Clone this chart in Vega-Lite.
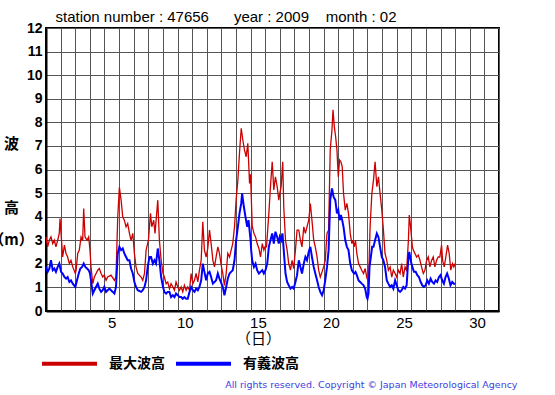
{
 "$schema": "https://vega.github.io/schema/vega-lite/v6.json",
 "width": 453,
 "height": 283,
 "autosize": {"type": "none"},
 "padding": {"left": 46, "top": 28, "right": 56, "bottom": 84},
 "background": "white",
 "config": {"view": {"stroke": "#000000", "strokeWidth": 2}},
 "datasets": {
  "max": [
   {"d":1.00,"v":3.14},{"d":1.11,"v":2.72},{"d":1.23,"v":3.0},{"d":1.34,"v":3.14},{"d":1.46,"v":2.86},{"d":1.57,"v":3.0},{"d":1.68,"v":2.72},{"d":1.80,"v":3.0},{"d":1.91,"v":3.3},{"d":1.96,"v":3.92},
   {"d":2.14,"v":2.29},{"d":2.26,"v":2.79},{"d":2.37,"v":2.44},{"d":2.48,"v":2.29},{"d":2.60,"v":2.01},{"d":2.71,"v":2.15},{"d":2.83,"v":1.87},{"d":3.01,"v":1.59},
   {"d":3.06,"v":1.73},{"d":3.17,"v":2.44},{"d":3.28,"v":2.58},{"d":3.40,"v":3.14},{"d":3.51,"v":3.0},{"d":3.58,"v":4.35},{"d":3.67,"v":3.14},{"d":3.81,"v":3.0},{"d":3.92,"v":3.14},
   {"d":4.01,"v":2.58},{"d":4.08,"v":1.87},{"d":4.20,"v":1.16},{"d":4.31,"v":1.44},{"d":4.54,"v":1.73},{"d":4.65,"v":1.80},{"d":4.77,"v":1.59},{"d":4.88,"v":1.44},{"d":4.99,"v":1.52},
   {"d":5.11,"v":1.30},{"d":5.22,"v":1.44},{"d":5.45,"v":1.52},{"d":5.68,"v":1.30},{"d":5.79,"v":1.44},{"d":5.91,"v":3.99},{"d":6.02,"v":5.24},
   {"d":6.14,"v":4.70},{"d":6.25,"v":3.99},{"d":6.36,"v":3.85},{"d":6.48,"v":3.57},{"d":6.59,"v":3.71},{"d":6.71,"v":3.29},{"d":6.82,"v":3.0},{"d":6.94,"v":3.29},
   {"d":7.05,"v":2.44},{"d":7.16,"v":1.87},{"d":7.28,"v":1.59},{"d":7.51,"v":1.44},{"d":7.62,"v":1.30},{"d":7.74,"v":1.59},{"d":7.85,"v":2.58},{"d":8.01,"v":3.0},
   {"d":8.15,"v":4.14},{"d":8.24,"v":3.57},{"d":8.37,"v":3.85},{"d":8.46,"v":3.29},{"d":8.65,"v":4.70},{"d":8.76,"v":3.0},{"d":8.88,"v":2.15},{"d":9.01,"v":1.59},
   {"d":9.10,"v":1.44},{"d":9.22,"v":1.16},{"d":9.33,"v":1.23},{"d":9.45,"v":0.95},{"d":9.56,"v":1.16},{"d":9.68,"v":1.02},{"d":9.79,"v":0.88},{"d":9.90,"v":1.23},
   {"d":10.02,"v":1.02},{"d":10.13,"v":0.88},{"d":10.25,"v":1.02},{"d":10.36,"v":0.81},{"d":10.47,"v":1.09},{"d":10.59,"v":0.88},{"d":10.70,"v":1.02},{"d":10.82,"v":0.88},{"d":10.93,"v":1.59},
   {"d":11.05,"v":1.16},{"d":11.16,"v":1.30},{"d":11.27,"v":1.59},{"d":11.39,"v":1.23},{"d":11.50,"v":1.73},{"d":11.62,"v":2.15},{"d":11.73,"v":3.78},{"d":11.84,"v":2.58},{"d":11.96,"v":2.29},
   {"d":12.07,"v":2.65},{"d":12.19,"v":3.43},{"d":12.30,"v":2.86},{"d":12.42,"v":2.15},{"d":12.53,"v":1.87},{"d":12.64,"v":2.29},{"d":12.76,"v":2.72},{"d":12.87,"v":2.44},
   {"d":13.01,"v":1.87},{"d":13.10,"v":1.59},{"d":13.21,"v":1.09},{"d":13.33,"v":1.59},{"d":13.44,"v":2.44},{"d":13.56,"v":2.29},{"d":13.67,"v":2.58},{"d":13.78,"v":2.86},{"d":13.90,"v":3.57},
   {"d":14.01,"v":4.70},{"d":14.13,"v":5.55},{"d":14.24,"v":6.69},{"d":14.36,"v":7.75},{"d":14.47,"v":7.25},{"d":14.58,"v":6.83},{"d":14.70,"v":6.54},{"d":14.81,"v":7.11},{"d":14.93,"v":5.41},
   {"d":15.00,"v":5.8},{"d":15.11,"v":3.6},{"d":15.23,"v":3.29},{"d":15.34,"v":3.14},{"d":15.45,"v":2.86},{"d":15.57,"v":2.65},{"d":15.68,"v":2.29},{"d":15.80,"v":2.86},{"d":15.91,"v":2.58},{"d":15.98,"v":2.72},
   {"d":16.09,"v":2.72},{"d":16.25,"v":4.14},{"d":16.36,"v":5.27},{"d":16.48,"v":6.33},{"d":16.59,"v":5.13},{"d":16.70,"v":5.69},{"d":16.82,"v":5.27},{"d":16.93,"v":4.70},
   {"d":17.00,"v":4.99},{"d":17.09,"v":5.27},{"d":17.20,"v":6.33},{"d":17.27,"v":4.42},{"d":17.39,"v":3.0},{"d":17.50,"v":2.58},{"d":17.61,"v":2.01},{"d":17.73,"v":1.73},{"d":17.84,"v":2.15},{"d":17.95,"v":1.80},
   {"d":18.07,"v":2.58},{"d":18.18,"v":3.43},{"d":18.30,"v":3.43},{"d":18.41,"v":3.0},{"d":18.52,"v":2.72},{"d":18.64,"v":3.57},{"d":18.75,"v":3.29},{"d":18.86,"v":3.57},{"d":18.98,"v":3.85},
   {"d":19.09,"v":4.56},{"d":19.20,"v":3.85},{"d":19.32,"v":3.0},{"d":19.43,"v":2.72},{"d":19.55,"v":2.29},{"d":19.66,"v":1.73},{"d":19.77,"v":1.44},{"d":19.89,"v":1.66},
   {"d":20.00,"v":1.87},{"d":20.11,"v":2.15},{"d":20.23,"v":3.29},{"d":20.34,"v":3.43},{"d":20.45,"v":6.83},{"d":20.57,"v":7.68},{"d":20.64,"v":8.53},{"d":20.73,"v":7.82},{"d":20.82,"v":7.39},{"d":20.91,"v":6.83},
   {"d":21.00,"v":5.69},{"d":21.09,"v":6.40},{"d":21.18,"v":6.33},{"d":21.27,"v":6.12},{"d":21.36,"v":4.99},{"d":21.48,"v":4.28},{"d":21.59,"v":4.56},{"d":21.70,"v":4.14},{"d":21.82,"v":3.29},{"d":21.93,"v":2.86},
   {"d":22.00,"v":3.0},{"d":22.09,"v":2.72},{"d":22.18,"v":3.0},{"d":22.27,"v":2.44},{"d":22.39,"v":2.01},{"d":22.50,"v":1.87},{"d":22.61,"v":1.73},{"d":22.73,"v":1.59},{"d":22.84,"v":1.80},{"d":22.95,"v":1.44},
   {"d":23.07,"v":1.2},{"d":23.18,"v":3.57},{"d":23.30,"v":4.99},{"d":23.41,"v":5.55},{"d":23.52,"v":6.33},{"d":23.64,"v":5.27},{"d":23.75,"v":5.69},{"d":23.86,"v":4.99},{"d":23.98,"v":4.28},
   {"d":24.09,"v":3.43},{"d":24.20,"v":2.44},{"d":24.32,"v":2.15},{"d":24.43,"v":1.73},{"d":24.55,"v":1.87},{"d":24.66,"v":1.44},{"d":24.77,"v":1.73},{"d":24.89,"v":1.59},
   {"d":25.00,"v":1.44},{"d":25.11,"v":1.73},{"d":25.23,"v":1.59},{"d":25.34,"v":2.01},{"d":25.45,"v":1.44},{"d":25.57,"v":1.87},{"d":25.68,"v":1.73},{"d":25.80,"v":3.0},{"d":25.86,"v":4.07},{"d":25.95,"v":3.57},
   {"d":26.07,"v":2.72},{"d":26.14,"v":2.58},{"d":26.25,"v":2.44},{"d":26.36,"v":2.29},{"d":26.48,"v":2.37},{"d":26.59,"v":2.15},{"d":26.70,"v":1.87},{"d":26.82,"v":1.59},{"d":26.93,"v":1.73},
   {"d":27.05,"v":2.15},{"d":27.16,"v":2.29},{"d":27.27,"v":1.87},{"d":27.39,"v":2.15},{"d":27.50,"v":2.29},{"d":27.61,"v":1.87},{"d":27.73,"v":2.15},{"d":27.84,"v":2.29},{"d":27.95,"v":2.29},
   {"d":28.07,"v":2.79},{"d":28.14,"v":2.15},{"d":28.25,"v":1.87},{"d":28.36,"v":2.29},{"d":28.48,"v":2.79},{"d":28.59,"v":2.44},{"d":28.70,"v":1.73},{"d":28.82,"v":2.01},{"d":28.91,"v":1.87},{"d":29.00,"v":2.01}
  ],
  "sig": [
   {"d":1.00,"v":1.87},{"d":1.11,"v":1.66},{"d":1.23,"v":1.80},{"d":1.34,"v":2.15},{"d":1.46,"v":1.73},{"d":1.57,"v":1.80},{"d":1.68,"v":1.66},{"d":1.80,"v":1.87},{"d":1.91,"v":2.01},
   {"d":2.03,"v":1.66},{"d":2.14,"v":1.59},{"d":2.26,"v":1.44},{"d":2.37,"v":1.37},{"d":2.48,"v":1.44},{"d":2.60,"v":1.23},{"d":2.71,"v":1.30},{"d":2.83,"v":1.16},
   {"d":3.01,"v":1.02},{"d":3.12,"v":1.30},{"d":3.24,"v":1.59},{"d":3.35,"v":1.80},{"d":3.47,"v":1.87},{"d":3.58,"v":2.01},{"d":3.69,"v":1.87},{"d":3.81,"v":1.80},{"d":3.92,"v":1.73},
   {"d":4.01,"v":1.59},{"d":4.08,"v":1.30},{"d":4.20,"v":0.74},{"d":4.31,"v":0.88},{"d":4.42,"v":1.02},{"d":4.54,"v":1.16},{"d":4.65,"v":0.95},{"d":4.77,"v":0.81},{"d":4.88,"v":0.88},{"d":4.99,"v":1.02},
   {"d":5.11,"v":0.81},{"d":5.22,"v":0.88},{"d":5.34,"v":0.95},{"d":5.45,"v":0.88},{"d":5.57,"v":0.81},{"d":5.68,"v":0.74},{"d":5.79,"v":1.02},{"d":5.91,"v":2.44},
   {"d":6.02,"v":2.72},{"d":6.14,"v":2.58},{"d":6.25,"v":2.65},{"d":6.36,"v":2.44},{"d":6.48,"v":2.29},{"d":6.59,"v":2.15},{"d":6.71,"v":2.15},{"d":6.82,"v":1.80},{"d":6.94,"v":1.59},
   {"d":7.05,"v":1.23},{"d":7.16,"v":1.02},{"d":7.28,"v":0.88},{"d":7.51,"v":0.81},{"d":7.62,"v":0.88},{"d":7.74,"v":1.02},{"d":7.85,"v":1.30},{"d":7.96,"v":1.87},
   {"d":8.08,"v":2.29},{"d":8.19,"v":2.29},{"d":8.31,"v":2.01},{"d":8.42,"v":2.15},{"d":8.53,"v":2.01},{"d":8.65,"v":2.65},{"d":8.76,"v":2.15},{"d":8.88,"v":1.44},
   {"d":9.01,"v":1.02},{"d":9.10,"v":0.81},{"d":9.22,"v":0.74},{"d":9.33,"v":0.81},{"d":9.45,"v":0.81},{"d":9.56,"v":0.59},{"d":9.68,"v":0.67},{"d":9.79,"v":0.59},{"d":9.90,"v":0.74},
   {"d":10.02,"v":0.67},{"d":10.13,"v":0.59},{"d":10.25,"v":0.59},{"d":10.36,"v":0.52},{"d":10.47,"v":0.59},{"d":10.59,"v":0.52},{"d":10.70,"v":0.52},{"d":10.82,"v":0.81},{"d":10.93,"v":1.02},
   {"d":11.05,"v":0.88},{"d":11.16,"v":0.81},{"d":11.27,"v":0.95},{"d":11.39,"v":0.88},{"d":11.50,"v":1.02},{"d":11.62,"v":1.30},{"d":11.73,"v":2.01},{"d":11.84,"v":1.66},{"d":11.96,"v":1.30},
   {"d":12.07,"v":1.59},{"d":12.19,"v":1.66},{"d":12.30,"v":1.44},{"d":12.42,"v":1.16},{"d":12.53,"v":1.23},{"d":12.64,"v":1.30},{"d":12.76,"v":1.59},{"d":12.87,"v":1.37},
   {"d":13.01,"v":1.16},{"d":13.10,"v":1.02},{"d":13.21,"v":0.67},{"d":13.33,"v":1.02},{"d":13.44,"v":1.37},{"d":13.56,"v":1.59},{"d":13.67,"v":1.66},{"d":13.78,"v":1.73},{"d":13.90,"v":2.15},
   {"d":14.01,"v":3.0},{"d":14.13,"v":3.57},{"d":14.24,"v":4.14},{"d":14.36,"v":4.56},{"d":14.42,"v":4.99},{"d":14.54,"v":4.42},{"d":14.65,"v":3.99},{"d":14.77,"v":3.57},{"d":14.86,"v":3.85},
   {"d":15.00,"v":3.0},{"d":15.04,"v":2.58},{"d":15.11,"v":2.15},{"d":15.23,"v":1.87},{"d":15.34,"v":2.01},{"d":15.45,"v":1.73},{"d":15.57,"v":1.59},{"d":15.68,"v":1.66},{"d":15.80,"v":1.73},{"d":15.91,"v":1.59},
   {"d":16.02,"v":1.73},{"d":16.14,"v":2.01},{"d":16.25,"v":2.72},{"d":16.36,"v":3.0},{"d":16.48,"v":3.29},{"d":16.59,"v":2.86},{"d":16.70,"v":3.36},{"d":16.82,"v":3.14},{"d":16.93,"v":2.86},
   {"d":17.00,"v":3.14},{"d":17.09,"v":3.0},{"d":17.18,"v":3.29},{"d":17.27,"v":2.58},{"d":17.39,"v":1.59},{"d":17.50,"v":1.23},{"d":17.61,"v":1.09},{"d":17.73,"v":0.95},{"d":17.84,"v":1.02},{"d":17.95,"v":0.95},
   {"d":18.07,"v":1.23},{"d":18.18,"v":1.52},{"d":18.30,"v":2.15},{"d":18.41,"v":1.87},{"d":18.52,"v":1.59},{"d":18.64,"v":2.01},{"d":18.75,"v":2.29},{"d":18.86,"v":2.15},{"d":18.98,"v":2.51},
   {"d":19.09,"v":2.72},{"d":19.20,"v":2.29},{"d":19.32,"v":1.87},{"d":19.43,"v":1.59},{"d":19.55,"v":1.30},{"d":19.66,"v":1.02},{"d":19.77,"v":0.81},{"d":19.89,"v":0.67},
   {"d":20.00,"v":0.88},{"d":20.11,"v":1.30},{"d":20.23,"v":1.87},{"d":20.34,"v":2.58},{"d":20.45,"v":4.70},{"d":20.57,"v":5.20},{"d":20.68,"v":4.84},{"d":20.80,"v":4.70},{"d":20.91,"v":4.14},
   {"d":21.00,"v":4.28},{"d":21.09,"v":3.85},{"d":21.18,"v":4.07},{"d":21.27,"v":3.85},{"d":21.36,"v":3.57},{"d":21.48,"v":3.0},{"d":21.59,"v":2.72},{"d":21.70,"v":2.58},{"d":21.82,"v":2.01},{"d":21.93,"v":1.73},
   {"d":22.00,"v":1.66},{"d":22.09,"v":1.59},{"d":22.18,"v":1.66},{"d":22.27,"v":1.52},{"d":22.39,"v":1.30},{"d":22.50,"v":1.23},{"d":22.61,"v":1.16},{"d":22.73,"v":1.09},{"d":22.84,"v":0.95},{"d":22.95,"v":0.59},
   {"d":23.00,"v":0.52},{"d":23.07,"v":0.74},{"d":23.14,"v":1.87},{"d":23.23,"v":2.29},{"d":23.32,"v":2.72},{"d":23.41,"v":2.72},{"d":23.52,"v":3.0},{"d":23.64,"v":3.29},{"d":23.75,"v":3.14},{"d":23.86,"v":2.72},{"d":23.98,"v":2.29},
   {"d":24.09,"v":2.15},{"d":24.20,"v":1.87},{"d":24.32,"v":1.30},{"d":24.43,"v":1.16},{"d":24.55,"v":1.02},{"d":24.66,"v":1.09},{"d":24.77,"v":0.95},{"d":24.89,"v":1.30},
   {"d":25.00,"v":1.09},{"d":25.11,"v":0.88},{"d":25.23,"v":0.81},{"d":25.34,"v":0.88},{"d":25.45,"v":1.02},{"d":25.57,"v":0.95},{"d":25.68,"v":1.09},{"d":25.80,"v":2.29},{"d":25.86,"v":2.51},{"d":25.98,"v":2.08},
   {"d":26.07,"v":1.87},{"d":26.18,"v":1.66},{"d":26.30,"v":1.66},{"d":26.41,"v":1.52},{"d":26.52,"v":1.44},{"d":26.64,"v":1.23},{"d":26.75,"v":1.09},{"d":26.86,"v":1.02},{"d":26.98,"v":1.09},
   {"d":27.09,"v":1.30},{"d":27.20,"v":1.16},{"d":27.32,"v":1.37},{"d":27.43,"v":1.23},{"d":27.55,"v":1.16},{"d":27.66,"v":1.30},{"d":27.77,"v":1.23},{"d":27.89,"v":1.44},
   {"d":28.00,"v":1.52},{"d":28.11,"v":1.30},{"d":28.23,"v":1.16},{"d":28.34,"v":1.44},{"d":28.45,"v":1.59},{"d":28.57,"v":1.37},{"d":28.68,"v":1.09},{"d":28.80,"v":1.23},{"d":28.91,"v":1.16},{"d":29.00,"v":1.16}
  ]
 },
 "layer": [
  {
   "data": {"name": "max"},
   "mark": {"type": "line", "strokeWidth": 1.3},
   "encoding": {
    "x": {"field": "d", "type": "quantitative", "scale": {"domain": [1, 32], "nice": false, "zero": false},
     "axis": {"orient": "bottom", "values": [1,2,3,4,5,6,7,8,9,10,11,12,13,14,15,16,17,18,19,20,21,22,23,24,25,26,27,28,29,30,31,32],
      "grid": true, "gridColor": "#555555", "gridWidth": 1, "gridOpacity": 1, "ticks": false,
      "labelExpr": "datum.value % 5 === 0 ? datum.label : ''", "labelOffset": 7.3, "labelFlush": false, "labelOverlap": false,
      "labelFont": "Liberation Sans", "labelFontSize": 15, "labelColor": "#000000", "labelPadding": 4,
      "domainColor": "#000000", "domainWidth": 2,
      "title": "（日）", "titleFont": "Noto Sans CJK JP", "titleFontSize": 15, "titleFontWeight": "normal", "titleColor": "#000000",
      "titleX": 212, "titleY": 27, "titleAlign": "center", "titleBaseline": "middle"}},
    "y": {"field": "v", "type": "quantitative", "scale": {"domain": [0, 12], "nice": false},
     "axis": {"orient": "left", "values": [0,1,2,3,4,5,6,7,8,9,10,11,12], "grid": true, "gridColor": "#555555", "gridWidth": 1, "gridOpacity": 1, "ticks": false,
      "labelOverlap": false, "labelFlush": false,
      "labelFont": "Liberation Sans", "labelFontSize": 14, "labelFontWeight": "bold", "labelColor": "#000000", "labelPadding": 4,
      "domainColor": "#000000", "domainWidth": 2,
      "title": ["波", "\u200b", "\u200b\u200b", "\u200b\u200b\u200b", "高", "\u200c", "（m）"], "titleAngle": 0, "titleFont": "Noto Sans CJK JP", "titleFontSize": 15, "titleFontWeight": "bold", "titleColor": "#000000",
      "titleX": -35, "titleY": 108, "titleAlign": "center", "titleBaseline": "top", "titleLineHeight": 16}},
    "color": {"datum": "最大波高", "type": "nominal",
     "scale": {"domain": ["最大波高", "有義波高"], "range": ["#cc0000", "#0000ff"]},
     "legend": {"orient": "none", "legendX": -6, "legendY": 306, "direction": "horizontal", "title": null,
      "symbolType": "stroke", "symbolSize": 3025, "symbolStrokeWidth": 4, "labelFont": "Noto Sans CJK JP", "labelFontSize": 14, "labelFontWeight": "bold", "labelColor": "#000000",
      "labelOffset": 10, "columnPadding": 3, "padding": 0}}
   }
  },
  {
   "data": {"name": "sig"},
   "mark": {"type": "line", "strokeWidth": 2},
   "encoding": {
    "x": {"field": "d", "type": "quantitative",
     "axis": {"orient": "top", "grid": false, "labels": false, "ticks": false, "domain": false,
      "title": "station number : 47656\u00a0\u00a0\u00a0\u00a0\u00a0\u00a0year : 2009\u00a0\u00a0\u00a0\u00a0month : 02", "titleFont": "Liberation Sans", "titleFontSize": 15, "titleFontWeight": "normal", "titleColor": "#000000",
      "titleX": 9, "titleY": -7, "titleAlign": "left", "titleBaseline": "alphabetic"}},
    "y": {"field": "v", "type": "quantitative",
     "axis": {"orient": "right", "grid": false, "labels": false, "ticks": false, "domain": false,
      "title": "All rights reserved. Copyright © Japan Meteorological Agency", "titleFont": "DejaVu Sans", "titleFontSize": 9.5, "titleFontWeight": "normal", "titleColor": "#4040e0",
      "titleAngle": 0, "titleX": 18, "titleY": 356, "titleAlign": "right", "titleBaseline": "middle"}},
    "color": {"datum": "有義波高", "type": "nominal"}
   }
  }
 ],
 "resolve": {"axis": {"x": "independent", "y": "independent"}}
}
